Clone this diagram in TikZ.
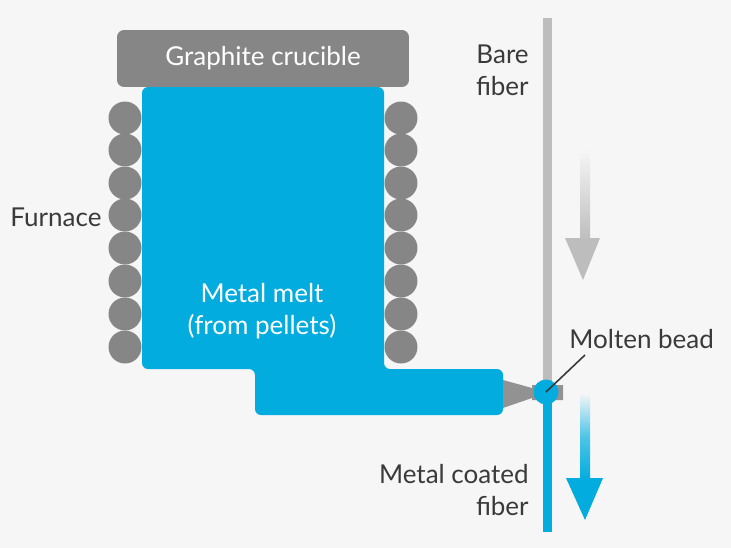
\documentclass[tikz,border=0pt]{standalone}
\usepackage{fontspec}
\setmainfont{Lato}
\usetikzlibrary{positioning}
\definecolor{meltblue}{HTML}{02ACDE}
\definecolor{graphitegray}{HTML}{868686}
\definecolor{fibergray}{HTML}{BDBDBD}
\definecolor{paper}{HTML}{F6F6F6}
\definecolor{textgray}{HTML}{3A3A3A}
\begin{document}
\begin{tikzpicture}[x=0.02cm,y=-0.02cm]
            \tikzset{
                coil/.style={circle, fill=graphitegray, inner sep=0, minimum size=0.66cm},
                label/.style={text=textgray, font=\fontsize{14.8}{18}\selectfont, align=center, inner sep=0},
                inlabel/.style={text=white, font=\fontsize{14.8}{18}\selectfont, align=center, inner sep=0},
                crucible/.style={fill=graphitegray, rounded corners=0.14cm, inner sep=0, minimum width=5.84cm, minimum height=1.14cm},
                bead/.style={circle, fill=meltblue, inner sep=0, minimum size=0.5cm}
            }
            \fill[paper] (0,0) rectangle (731,548);

            % furnace coils
            \foreach \n/\y in {1/118,2/150,3/183,4/215,5/248,6/281,7/314,8/347}{
            \node[coil] (l\n) at (125,\y) {};
            \node[coil] (r\n) at (401,\y) {};
            }

            % melt
            \fill[meltblue, rounded corners=0.12cm] (142,87) -- (384,87) -- (384,369) -- (503,369) -- (503,415) -- (255,415) -- (255,369) -- (142,369) -- cycle;
            \node[crucible, inlabel] (crucible) at (263,58.5) {Graphite crucible};
            \node[inlabel] (melt) at (262,311) {Metal melt\\(from pellets)};

            % nozzle and fibers
            \fill[graphitegray!90!white] (503,380) -- (532,388) -- (532,385) -- (563,385) -- (563,400) -- (532,400) -- (532,398) -- (503,408) -- cycle;
            \fill[fibergray] (543,18) rectangle (552,393);
            \fill[meltblue] (543,393) rectangle (552,532);
            \node[bead] (bead) at (546,392) {};

            % travel arrows
            \shade[top color=paper, bottom color=fibergray] (580,150) rectangle (590,240);
            \fill[fibergray] (565,238) -- (600,238) -- (583,280) -- cycle;
            \shade[top color=paper, bottom color=meltblue, middle color=meltblue!70] (580,393) rectangle (590,480);
            \fill[meltblue] (566,478) -- (603,478) -- (585,520) -- cycle;

            \node[label] (furnace) at (56,217) {Furnace};
            \node[label, align=right, anchor=north east] (bare) at (529,45) {Bare\\fiber};
            \node[label, anchor=west] (molten) at (569,339) {Molten bead};
            \node[label, align=right, anchor=north east] (coated) at (529,464) {Metal coated\\fiber};

            \draw[textgray, line width=0.9pt] (585,355) -- (bead.center);
\end{tikzpicture}
\end{document}
